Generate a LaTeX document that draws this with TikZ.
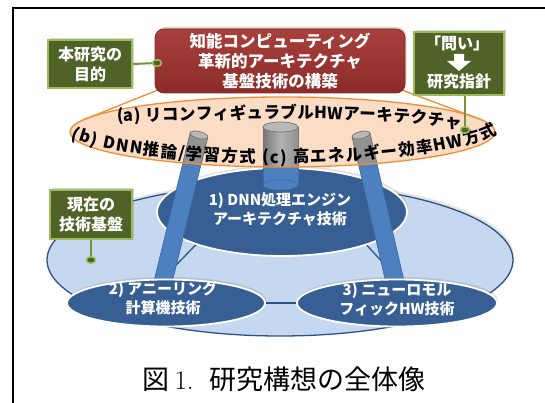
\documentclass[tikz,border=0pt]{standalone}
\usepackage{fontspec}
\newfontfamily\jp{Noto Sans CJK JP}
\usetikzlibrary{shapes.geometric,shadows,decorations.text}
\definecolor{gfill}{HTML}{4F6228}
\definecolor{gline}{HTML}{9BBB59}
\definecolor{gconnc}{HTML}{77933C}
\definecolor{redA}{HTML}{A8403D}
\definecolor{redB}{HTML}{8B2C2A}
\definecolor{orangeL}{HTML}{F28E35}
\definecolor{peach}{HTML}{FBDCC5}
\definecolor{baseblue}{HTML}{C6D8EF}
\definecolor{basedark}{HTML}{2D5286}
\definecolor{techblue}{HTML}{375F93}
\definecolor{pblue}{HTML}{4D80BF}
\definecolor{pblueD}{HTML}{3C6CA8}
\definecolor{pgray}{HTML}{929292}
\definecolor{pgrayL}{HTML}{B8B8B8}
\definecolor{pgrayD}{HTML}{767676}
\begin{document}
\begin{tikzpicture}[x=1pt,y=-1pt,
  gbox/.style={rectangle, fill=gfill, draw=gline, line width=1.6pt, text=white,
    font=\jp\bfseries\fontsize{16}{20}\selectfont, align=center, inner sep=0pt,
    drop shadow={opacity=.3, shadow xshift=1.5pt, shadow yshift=1.5pt}},
  gtext/.style={text=white, font=\jp\bfseries\fontsize{16}{20}\selectfont, inner sep=0pt},
  gconn/.style={draw=gconnc, line width=2pt},
  gdot/.style={ellipse, inner sep=0pt, minimum width=9pt, minimum height=6.5pt,
    fill=gfill, draw=gline, line width=1.5pt},
  techell/.style={ellipse, inner sep=0pt, fill=techblue, draw=white, line width=1.8pt,
    drop shadow={opacity=.25, shadow xshift=1pt, shadow yshift=2.5pt}},
  techtxt/.style={text=white, font=\jp\bfseries\fontsize{15}{19}\selectfont, align=center, inner sep=0pt},
  bconn/.style={draw=basedark, line width=1.3pt},
  pillarblue/.style={fill=pblue, draw=pblueD, line width=.7pt},
  pillargray/.style={fill=pgray, draw=pgrayD, line width=.7pt},
  capgray/.style={fill=pgrayL, draw=pgrayD, line width=.7pt},
  ringline/.style={draw=orangeL, line width=1.3pt},
  redbox/.style={rectangle, rounded corners=9pt, top color=redA, bottom color=redB,
    draw=redB, line width=.8pt, text=white, align=center, inner sep=0pt,
    font=\jp\bfseries\fontsize{16.5}{20}\selectfont,
    drop shadow={opacity=.3, shadow xshift=1.5pt, shadow yshift=2pt}}
]
\useasboundingbox (0,0) rectangle (545,403);
\fill[white] (0,0) rectangle (545,403);
% frame
\draw[line width=1.6pt] (13,403) -- (13,8) -- (545,8);

% base ellipse
\node[ellipse, inner sep=0pt, minimum width=466pt, minimum height=152pt, fill=baseblue,
  draw=basedark, line width=1.3pt,
  drop shadow={opacity=.2, shadow xshift=1pt, shadow yshift=3pt}] (base) at (280,260) {};

% centres of the technology ellipses
\coordinate (e1c) at (282,212);
\coordinate (e2c) at (166,303);
\coordinate (e3c) at (397,303);
\coordinate (c12a) at (215,225);
\coordinate (c12b) at (150,292);
\coordinate (c13a) at (350,227);
\coordinate (c13b) at (410,292);
\draw[bconn] (c12a) -- (c12b);
\draw[bconn] (c13a) -- (c13b);
\draw[bconn] (e2c) -- (e3c);

% ellipse 1
\node[techell, minimum width=250pt, minimum height=88pt] (e1) at (e1c) {};

% orange ring fill
\node[ellipse, inner sep=0pt, minimum width=425pt, minimum height=70pt, fill=peach] (ring) at (282.5,132) {};

% pillars (blue)
\fill[pillarblue] (263,127) rectangle (298,185);
\fill[pillarblue] (280.5,185) ellipse [x radius=17.5, y radius=5];
\fill[pillarblue] (190.3,132.9) -- (207.7,137.1) -- (171.7,284.1) -- (154.3,279.9) -- cycle;
\fill[pillarblue] (352.2,137.0) -- (369.8,133.0) -- (403.8,280.0) -- (386.2,284.0) -- cycle;
% pillars (grey inside the ring)
\begin{scope}
  \clip (282.5,132) ellipse [x radius=212.5, y radius=35];
  \shade[left color=pgrayD, right color=pgray, middle color=pgrayL!90!gray] (263,127) rectangle (298,185);
  \draw[pgrayD, line width=.7pt] (263,127) rectangle (298,185);
  \fill[pillargray] (190.3,132.9) -- (207.7,137.1) -- (171.7,284.1) -- (154.3,279.9) -- cycle;
  \fill[pillargray] (352.2,137.0) -- (369.8,133.0) -- (403.8,280.0) -- (386.2,284.0) -- cycle;
\end{scope}
\filldraw[capgray] (280.5,127) ellipse [x radius=17.5, y radius=5];
\filldraw[capgray, rotate around={-13.8:(199,135)}] (199,135) ellipse [x radius=9, y radius=3.5];
\filldraw[capgray, rotate around={13:(361,135)}] (361,135) ellipse [x radius=9, y radius=3.5];

% ellipses 2 and 3
\node[techell, minimum width=198pt, minimum height=47pt] (e2) at (e2c) {};
\node[techell, minimum width=200pt, minimum height=47pt] (e3) at (e3c) {};

% ring border
\draw[ringline] (ring.center) ellipse [x radius=212.5, y radius=35];

% red box and cone lines
\coordinate (tl) at (83,120);
\coordinate (tr) at (482,120);
\path (280,61) coordinate (rbc);
\draw[ringline] (155+3,93-3) -- (tl);
\draw[ringline] (405-3,93-3) -- (tr);
\node[redbox, minimum width=250pt, minimum height=64pt] (rb) at (rbc)
  {知能コンピューティング\\革新的アーキテクチャ\\基盤技術の構築};

% texts in the ring
\path[decorate, decoration={text along path, text align={fit to path},
  text={|\jp\bfseries\fontsize{16.5}{17}\selectfont|(a) リコンフィギュラブルHWアーキテクチャ}}]
  (117,122) .. controls (240,118) and (400,115) .. (460,130);
\path[decorate, decoration={text along path, text align={fit to path},
  text={|\jp\bfseries\fontsize{16.5}{17}\selectfont|(b) DNN推論/学習方式 (c) 高エネルギー効率HW方式}}]
  (71,138) .. controls (150,172) and (420,172) .. (497,134);

% technology texts
\node[techtxt] (t1) at (280,209) {1) DNN処理エンジン\\アーキテクチャ技術};
\node[techtxt] (t2) at (163,298) {2) アニーリング\\計算機技術};
\node[techtxt] (t3) at (397,299) {3) ニューロモル\\フィックHW技術};

% green boxes
\node[gbox, minimum width=84pt, minimum height=48pt] (lb) at (90,64) {本研究の\\目的};
\node[gbox, minimum width=90pt, minimum height=63pt] (qb) at (459,63.5) {};
\node[gtext] (q1) at (457,43) {「問い」};
\node[gtext] (q2) at (459,81) {研究指針};
\fill[white] (454,54) -- (464,54) -- (464,61) -- (471,61) -- (459,71) -- (447,61) -- (454,61) -- cycle;
\node[gbox, minimum width=82pt, minimum height=49pt] (cb) at (91,214.5) {現在の\\技術基盤};

% green connectors and dots
\coordinate (d1c) at (157,63);
\coordinate (d2c) at (465,130);
\coordinate (d3c) at (91,260);
\draw[gconn] (lb.east) -- (d1c);
\draw[gconn] (d2c |- qb.south) -- (d2c);
\draw[gconn] (cb.south) -- (d3c);
\node[gdot] (d1) at (d1c) {};
\node[gdot] (d2) at (d2c) {};
\node[gdot] (d3) at (d3c) {};

% caption
\node[font=\jp\fontsize{27}{27}\selectfont, inner sep=0pt] (cap) at (284,379)
  {図\hspace{0.2em}{\rmfamily 1.}\hspace{0.6em}研究構想の全体像};
\end{tikzpicture}
\end{document}
